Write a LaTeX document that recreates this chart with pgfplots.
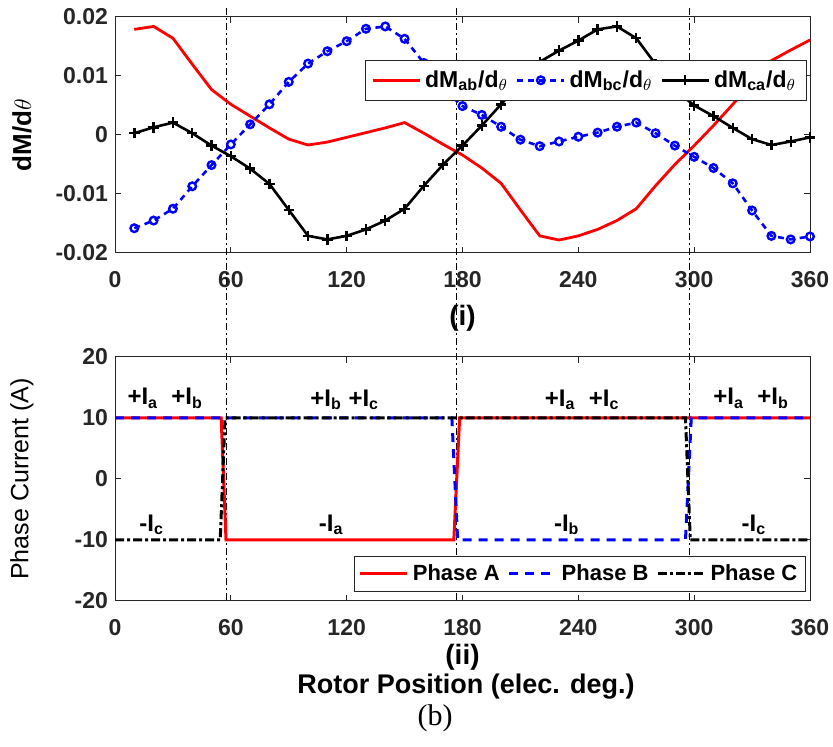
\documentclass[border=0pt]{standalone}
\usepackage{fontspec}
\setmainfont{Liberation Sans}
\newfontfamily\captionfont{Liberation Serif}
\usepackage{pgfplots}
\pgfplotsset{compat=1.18}

\definecolor{axgray}{gray}{0.15}
\definecolor{mred}{rgb}{1,0,0}
\definecolor{mblue}{rgb}{0,0,1}

\tikzset{
  vline/.style={black, line width=0.5pt,
    dash pattern=on 3.5pt off 1.5pt on 1pt off 1.5pt},
}

\pgfplotsset{
  matlab/.style={
    scale only axis, width=347.5pt,
    xmin=0, xmax=360,
    xtick={0,60,...,360},
    xticklabels={0,60,120,180,240,300,360},
    scaled y ticks=false,
    tick align=inside, major tick length=3pt,
    axis line style={axgray, line width=0.5pt},
    every tick/.style={axgray, line width=0.5pt},
    ticklabel style={font=\bfseries\fontsize{11.5}{13}\selectfont, text=axgray},
    xticklabel style={yshift=-5.5pt},
    /pgf/number format/assume math mode=true,
    legend columns=3,
    legend cell align=left,
    legend style={font=\bfseries\fontsize{11}{13}\selectfont, draw=axgray,
      line width=0.5pt, fill=white, inner sep=2pt,
      /tikz/every even column/.append style={column sep=2pt}},
    legend image code/.code={%
      \draw[mark repeat=2,mark phase=2,#1]
        plot coordinates {(0pt,0pt) (11.75pt,0pt) (23.5pt,0pt)};},
  },
}

\begin{document}
\begin{tikzpicture}
\path[use as bounding box] (0,0) rectangle (416.5pt,373.5pt);

% (i) derivative of mutual inductance
\begin{axis}[matlab,
  at={(57.5pt,247pt)}, anchor=south west, height=118pt,
  ymin=-0.02, ymax=0.02,
  ytick={-0.02,-0.01,0,0.01,0.02},
  yticklabels={-0.02,-0.01,0,0.01,0.02},
  xlabel={(i)},
  xlabel style={font=\bfseries\fontsize{14}{16}\selectfont,
    at={(axis description cs:0.5,-0.275)}, anchor=center},
  ylabel={dM/d$\theta$},
  ylabel style={font=\bfseries\fontsize{13}{15}\selectfont,
    at={(axis description cs:-0.134,0.5)}, anchor=center},
  clip=false,
  legend style={at={(0.995,0.818)}, anchor=north east,
    font=\bfseries\fontsize{11.5}{14}\selectfont, inner sep=3pt},
]
% sector boundaries
\draw[vline] (axis cs:57.5,0.0215) -- (axis cs:57.5,-0.0790);
\draw[vline] (axis cs:177,0.0215) -- (axis cs:177,-0.0790);
\draw[vline] (axis cs:297.5,0.0215) -- (axis cs:297.5,-0.0790);

\addplot[mred, line width=1.4pt] coordinates {
(10,0.0179) (20,0.0184) (30,0.0164) (40,0.0120) (50,0.0077) (60,0.0052)
(70,0.0032) (80,0.0012) (90,-0.0007) (100,-0.0017) (110,-0.0012) (120,-0.0004)
(130,0.0004) (140,0.0012) (150,0.0021) (160,0.0003) (170,-0.0016) (180,-0.0034)
(190,-0.0056) (200,-0.0082) (210,-0.0127) (220,-0.0171) (230,-0.0178) (240,-0.0171)
(250,-0.0160) (260,-0.0145) (270,-0.0125) (280,-0.0086) (290,-0.0050) (300,-0.0018)
(310,0.0016) (320,0.0052) (330,0.0089) (340,0.0126) (350,0.0144) (360,0.0161)
};
\addlegendentry{dM\textsubscript{ab}/d\textsubscript{$\theta$}}

\addplot[mblue, line width=1.3pt, dash pattern=on 3pt off 2.5pt,
  mark=o, mark size=1.9pt, mark options={solid, line width=1.2pt}] coordinates {
(10,-0.0158) (20,-0.0145) (30,-0.0125) (40,-0.0087) (50,-0.0051) (60,-0.0016)
(70,0.0018) (80,0.0052) (90,0.0090) (100,0.0121) (110,0.0142) (120,0.0159)
(130,0.0180) (140,0.0184) (150,0.0163) (160,0.0122) (170,0.0078) (180,0.0049)
(190,0.0034) (200,0.0014) (210,-0.0008) (220,-0.0019) (230,-0.0011) (240,-0.0003)
(250,0.0004) (260,0.0014) (270,0.0021) (280,0.0003) (290,-0.0018) (300,-0.0037)
(310,-0.0056) (320,-0.0082) (330,-0.0128) (340,-0.0171) (350,-0.0177) (360,-0.0172)
};
\addlegendentry{dM\textsubscript{bc}/d\textsubscript{$\theta$}}

\addplot[black, line width=1.3pt, mark=+, mark size=2.6pt,
  mark options={solid, line width=1.2pt}] coordinates {
(10,0.0003) (20,0.0013) (30,0.0021) (40,0.0003) (50,-0.0018) (60,-0.0036)
(70,-0.0057) (80,-0.0083) (90,-0.0127) (100,-0.0171) (110,-0.0177) (120,-0.0171)
(130,-0.0160) (140,-0.0145) (150,-0.0125) (160,-0.0086) (170,-0.0050) (180,-0.0018)
(190,0.0016) (200,0.0052) (210,0.0089) (220,0.0124) (230,0.0143) (240,0.0160)
(250,0.0179) (260,0.0184) (270,0.0164) (280,0.0120) (290,0.0077) (300,0.0050)
(310,0.0032) (320,0.0012) (330,-0.0007) (340,-0.0017) (350,-0.0011) (360,-0.0004)
};
\addlegendentry{dM\textsubscript{ca}/d\textsubscript{$\theta$}}
\end{axis}

% (ii) phase currents
\begin{axis}[matlab,
  at={(57.5pt,73pt)}, anchor=south west, height=122pt,
  ymin=-20, ymax=20,
  ytick={-20,-10,0,10,20},
  yticklabels={-20,-10,0,10,20},
  xlabel={(ii)},
  xlabel style={font=\bfseries\fontsize{14}{16}\selectfont,
    at={(axis description cs:0.5,-0.232)}, anchor=center},
  ylabel={Phase Current (A)},
  ylabel style={font=\fontsize{12.5}{15}\selectfont,
    at={(axis description cs:-0.134,0.5)}, anchor=center},
  clip=false,
  legend style={at={(0.994,0.037)}, anchor=south east},
]
\addplot[mred, line width=1.5pt] coordinates {
(0,10) (55,10) (57.5,-10) (175.5,-10) (178.5,10) (360,10)
};
\addlegendentry{Phase A}
\addplot[mblue, line width=1.5pt, dash pattern=on 4.5pt off 3.5pt] coordinates {
(0,10) (174.5,10) (177.5,-10) (295.5,-10) (298.5,10) (360,10)
};
\addlegendentry{Phase B}
\addplot[black, line width=1.5pt,
  dash pattern=on 4.5pt off 1.5pt on 1.5pt off 1.5pt] coordinates {
(0,-10) (54.5,-10) (57,10) (295.5,10) (298,-10) (360,-10)
};
\addlegendentry{Phase C}

\begin{scope}[font=\bfseries\fontsize{12}{14}\selectfont]
\node at (axis cs:26,13.2)    {+I\textsubscript{a}\ \ +I\textsubscript{b}};
\node at (axis cs:119,13.0)   {+I\textsubscript{b}\ +I\textsubscript{c}};
\node at (axis cs:242,13.0)   {+I\textsubscript{a}\ \ +I\textsubscript{c}};
\node at (axis cs:329.5,13.2) {+I\textsubscript{a}\ \ +I\textsubscript{b}};
\node at (axis cs:19,-7.5)    {-I\textsubscript{c}};
\node at (axis cs:112,-7.5)   {-I\textsubscript{a}};
\node at (axis cs:234,-7.5)   {-I\textsubscript{b}};
\node at (axis cs:331,-7.5)   {-I\textsubscript{c}};
\end{scope}
\node[font=\bfseries\fontsize{13.5}{16}\selectfont]
  at (axis description cs:0.505,-0.35) {Rotor Position (elec. deg.)};
\end{axis}

\node[font=\captionfont\fontsize{15}{17}\selectfont] at (217.5pt,14.5pt) {(b)};
\end{tikzpicture}
\end{document}
